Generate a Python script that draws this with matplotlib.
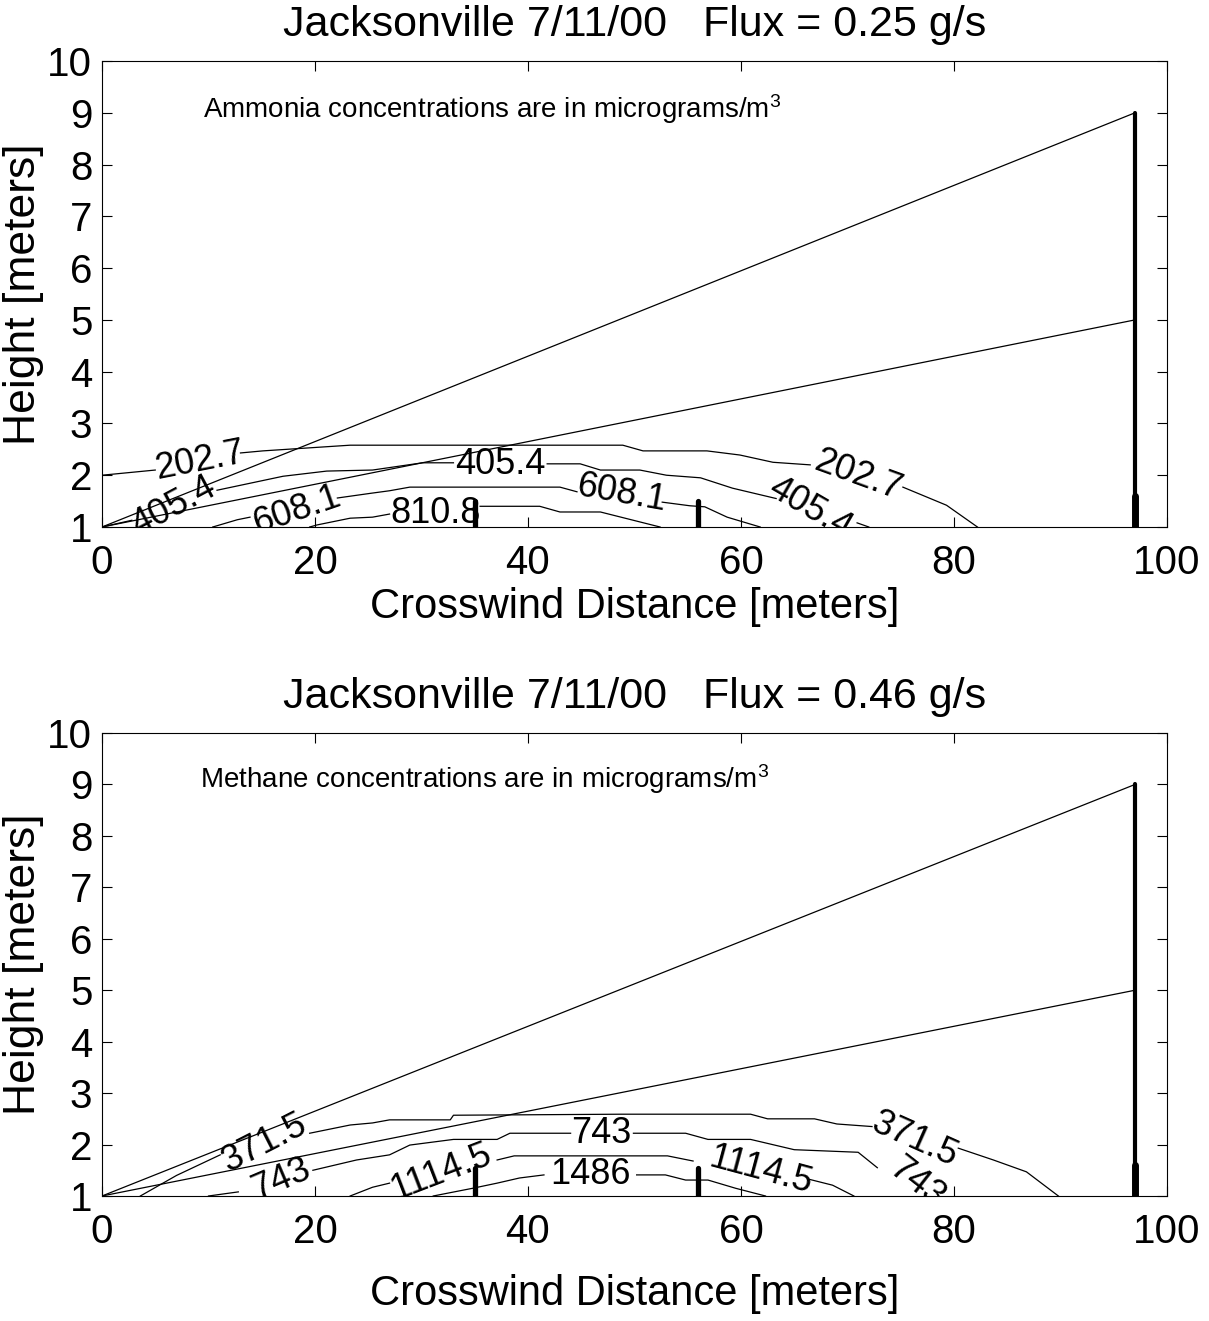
import numpy as np
import matplotlib
matplotlib.use('Agg')
import matplotlib.pyplot as plt

plt.rcParams['font.family'] = ['Liberation Sans', 'DejaVu Sans']
plt.rcParams['mathtext.fontset'] = 'custom'
plt.rcParams['mathtext.rm'] = 'Liberation Sans'
plt.rcParams['mathtext.default'] = 'regular'

nan = np.nan

# --- data ---
titles = ['Jacksonville 7/11/00   Flux = 0.25 g/s',
          'Jacksonville 7/11/00   Flux = 0.46 g/s']
notes = ['Ammonia concentrations are in micrograms/m$^{3}$',
         'Methane concentrations are in micrograms/m$^{3}$']

mast_x = 97
mast_tops = [9, 5]          # sloping lines from (0, 1) to the mast
sampler_x = [35, 56]        # short sampler posts
sampler_top = [1.5, 1.55]

xticks = [0, 20, 40, 60, 80, 100]
yticks = [1, 2, 3, 4, 5, 6, 7, 8, 9, 10]

# ammonia contours (nan = gap where the label sits)
nh3_202_x = [0, 5.0, nan, 13.0, 15.1, 23.3, 37.7, 43.9, 48.9, 50.8, 56.8, 59.9, 63.0, 66.5, nan, 75.2, 79.3, 82.2]
nh3_202_y = [2.0, 2.1, nan, 2.43, 2.47, 2.58, 2.58, 2.58, 2.58, 2.47, 2.47, 2.39, 2.25, 2.2, nan, 1.77, 1.42, 1.0]
nh3_405_x = [0, 2.8, nan, 10.8, 17.0, 21.1, 25.4, 30.1, 33.0, nan, 41.8, 44.9, 46.8, 50.5, 53.0, 56.2, 59.2, 63.3, nan, 70.9, 72.0]
nh3_405_y = [1.0, 1.13, nan, 1.71, 1.98, 2.08, 2.1, 2.24, 2.24, nan, 2.22, 2.22, 2.1, 2.1, 2.0, 1.95, 1.75, 1.55, nan, 1.08, 1.0]
nh3_608_x = [10.4, 12.7, 13.9, nan, 22.1, 25.2, 27.0, 28.9, 41.1, 43.0, 44.6, nan, 52.6, 55.2, 56.6, 58.7, 61.8]
nh3_608_y = [1.0, 1.14, 1.19, nan, 1.56, 1.65, 1.7, 1.77, 1.77, 1.77, 1.68, nan, 1.48, 1.41, 1.39, 1.19, 1.0]
nh3_810_x = [19.5, 20.2, 23.3, 25.4, 27.0, nan, 35.5, 41.1, 43.0, 46.8, 52.4]
nh3_810_y = [1.0, 1.04, 1.17, 1.19, 1.25, nan, 1.4, 1.4, 1.29, 1.29, 1.0]

nh3_lines = [(nh3_202_x, nh3_202_y), (nh3_405_x, nh3_405_y),
             (nh3_608_x, nh3_608_y), (nh3_810_x, nh3_810_y)]
# label text, x, y, rotation
nh3_labels = [('202.7', 9.2, 2.28, 11), ('202.7', 71.0, 2.0, -20),
              ('405.4', 6.7, 1.4, 28), ('405.4', 37.4, 2.2, 0), ('405.4', 66.5, 1.36, -30),
              ('608.1', 18.3, 1.32, 19), ('608.1', 48.8, 1.64, -10),
              ('810.8', 31.3, 1.27, 0)]

# methane contours
ch4_371_x = [3.6, 7.0, 11.1, nan, 19.5, 23.3, 25.4, 27.0, 32.7, 33.0, 48.8, 60.9, 62.5, 66.9, 69.0, 72.3, nan, 80.4, 83.7, 86.8, 89.8]
ch4_371_y = [1.0, 1.4, 1.8, nan, 2.22, 2.38, 2.42, 2.48, 2.48, 2.57, 2.59, 2.59, 2.5, 2.5, 2.4, 2.35, nan, 1.93, 1.7, 1.47, 1.0]
ch4_743_x = [10.0, 12.8, nan, 19.8, 23.9, 27.0, 28.9, 33.0, 37.1, 38.3, 44.0, nan, 49.9, 54.8, 56.9, 60.9, 65.0, 71.0, 72.8]
ch4_743_y = [1.0, 1.08, nan, 1.5, 1.7, 1.8, 1.99, 2.1, 2.1, 2.22, 2.22, nan, 2.22, 2.22, 2.1, 2.1, 1.9, 1.85, 1.55]
ch4_1114_x = [23.3, 25.4, 27.0, nan, 37.1, 38.7, 53.1, 55.5, nan, 66.3, 68.6, 70.6]
ch4_1114_y = [1.0, 1.17, 1.25, nan, 1.7, 1.78, 1.78, 1.68, nan, 1.33, 1.21, 1.0]
ch4_1486_x = [31.1, 34.8, 37.1, 39.2, 41.5, nan, 50.2, 52.9, 54.8, 56.9, 59.5, 62.3]
ch4_1486_y = [1.0, 1.15, 1.25, 1.35, 1.41, nan, 1.41, 1.41, 1.31, 1.31, 1.15, 1.0]

ch4_lines = [(ch4_371_x, ch4_371_y), (ch4_743_x, ch4_743_y),
             (ch4_1114_x, ch4_1114_y), (ch4_1486_x, ch4_1486_y)]
ch4_labels = [('371.5', 15.3, 2.03, 27), ('371.5', 76.3, 2.1, -24),
              ('743', 16.8, 1.33, 23), ('743', 46.9, 2.22, 0), ('743', 76.5, 1.25, -38),
              ('1114.5', 31.8, 1.46, 21), ('1114.5', 61.8, 1.5, -15),
              ('1486', 45.9, 1.41, 0)]

panels = [
    dict(title=titles[0], note=notes[0], note_xy=(9.5, 8.9), lines=nh3_lines,
         labels=nh3_labels, post_top=sampler_top[0], xlabelpad=4),
    dict(title=titles[1], note=notes[1], note_xy=(9.2, 8.93), lines=ch4_lines,
         labels=ch4_labels, post_top=sampler_top[1], xlabelpad=17),
]

fig = plt.figure(figsize=(12.09, 13.21), dpi=100)
W, H = 1209, 1321
boxes = [(102, 61, 1167, 527), (102, 733, 1167, 1196)]

for p, (l, t, r, b) in zip(panels, boxes):
    ax = fig.add_axes([l / W, 1 - b / H, (r - l) / W, (b - t) / H])

    for xs, ys in p['lines']:
        ax.plot(xs, ys, color='black', lw=0.9)

    for txt, x, y, rot in p['labels']:
        ax.text(x, y, txt, fontsize=26, rotation=rot, ha='center', va='center',
                rotation_mode='anchor', clip_on=True)

    for top in mast_tops:
        ax.plot([0, mast_x], [1, top], color='black', lw=0.9)

    ax.plot([mast_x, mast_x], [1, 9], color='black', lw=3.0, solid_capstyle='round')
    ax.plot([mast_x, mast_x], [1, 1.6], color='black', lw=5.0, solid_capstyle='round')
    for sx in sampler_x:
        ax.plot([sx, sx], [1, p['post_top']], color='black', lw=3.8, solid_capstyle='round')

    ax.text(p['note_xy'][0], p['note_xy'][1], p['note'], fontsize=20, ha='left', va='baseline')

    ax.set_xlim(0, 100)
    ax.set_ylim(1, 10)
    ax.set_xticks(xticks)
    ax.set_yticks(yticks)
    ax.tick_params(direction='in', length=7, width=0.8, top=True, right=True, labelsize=29)
    ax.tick_params(axis='x', pad=12)
    ax.tick_params(axis='y', pad=7)
    for s in ax.spines.values():
        s.set_linewidth(0.8)

    ax.set_title(p['title'], fontsize=31, pad=18)
    ax.set_xlabel('Crosswind Distance [meters]', fontsize=30, labelpad=p['xlabelpad'])
    ax.set_ylabel('Height [meters]', fontsize=32, labelpad=2)

fig.savefig('out.png', dpi=100)
